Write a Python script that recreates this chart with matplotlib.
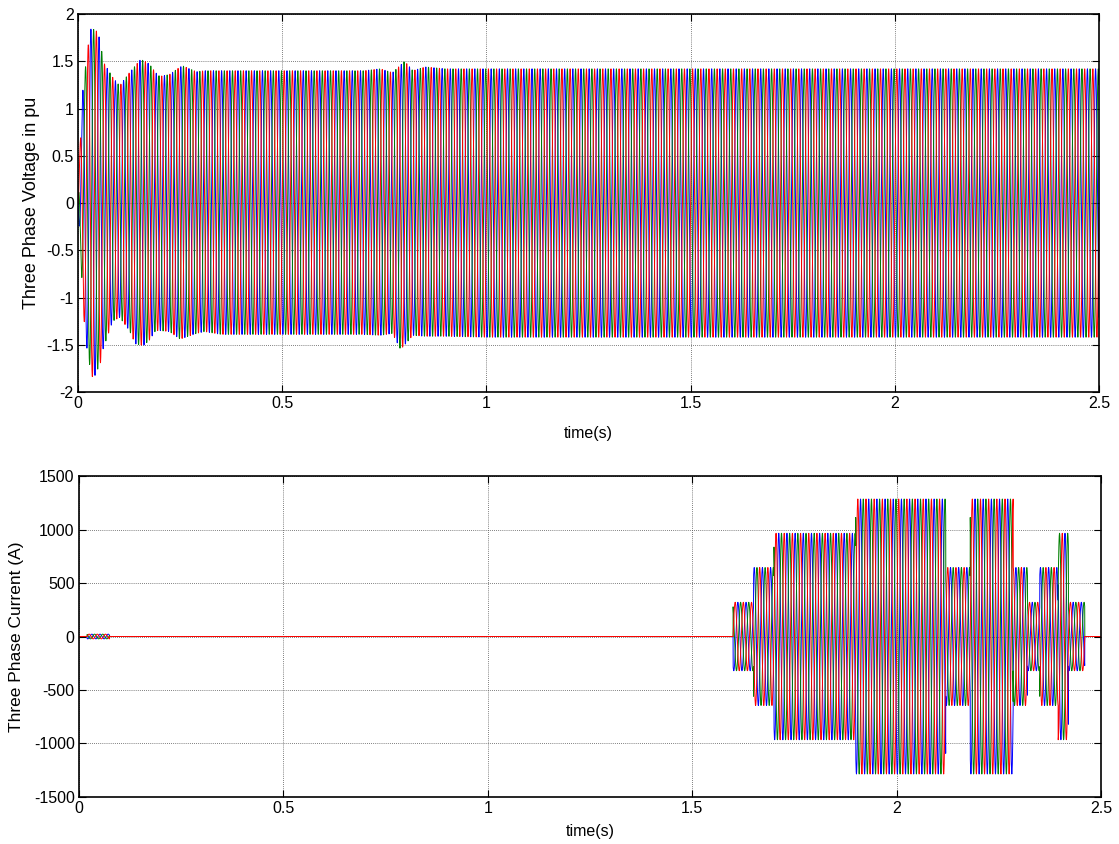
import numpy as np
import matplotlib
matplotlib.use("Agg")
import matplotlib.pyplot as plt

# ---------------- data ----------------
freq_hz = 50.0
t_end = 2.5

# voltage envelope (upper / lower peaks, pu) at breakpoint times (s)
v_env_t = [0.0, 0.007, 0.012, 0.02, 0.030, 0.037, 0.049, 0.057, 0.061, 0.085, 0.102,
           0.126, 0.14, 0.151, 0.16, 0.175, 0.19, 0.2, 0.224, 0.25, 0.257, 0.29, 0.31,
           0.35, 0.70, 0.74, 0.77, 0.79, 0.80, 0.82, 0.85, 0.90, 1.0, 2.5]
v_env_up = [0.0, 0.82, 1.2, 1.5, 1.84, 1.84, 1.81, 1.65, 1.5, 1.33, 1.24,
            1.38, 1.45, 1.51, 1.51, 1.47, 1.38, 1.34, 1.36, 1.44, 1.45, 1.39, 1.40,
            1.40, 1.40, 1.42, 1.38, 1.46, 1.50, 1.40, 1.44, 1.42, 1.42, 1.42]
v_env_lo = [0.0, -0.6, -1.1, -1.49, -1.75, -1.87, -1.75, -1.67, -1.55, -1.25, -1.21,
            -1.35, -1.49, -1.50, -1.51, -1.45, -1.35, -1.35, -1.36, -1.44, -1.43, -1.38, -1.36,
            -1.39, -1.39, -1.40, -1.38, -1.55, -1.50, -1.40, -1.41, -1.41, -1.42, -1.42]

# current envelope: piecewise constant amplitude (A) between step times (s)
i_step_t = [0.0, 0.02, 0.075, 1.60, 1.65, 1.70, 1.90, 2.12, 2.18, 2.285, 2.32, 2.35, 2.395, 2.42, 2.46, 2.5]
i_step_amp = [0, 22, 0, 320, 645, 965, 1285, 645, 1285, 645, 320, 645, 965, 320, 0]

phase_colors = ["#0000ff", "#008000", "#ff0000"]
phase_shift_deg = [-120.0, 120.0, 0.0]

x_ticks = [0, 0.5, 1, 1.5, 2, 2.5]
x_tick_labels = ["0", "0.5", "1", "1.5", "2", "2.5"]
v_ticks = [-2, -1.5, -1, -0.5, 0, 0.5, 1, 1.5, 2]
v_tick_labels = ["-2", "-1.5", "-1", "-0.5", "0", "0.5", "1", "1.5", "2"]
i_ticks = [-1500, -1000, -500, 0, 500, 1000, 1500]
i_tick_labels = ["-1500", "-1000", "-500", "0", "500", "1000", "1500"]

# ---------------- build waveforms ----------------
t = np.arange(0, t_end, 1e-4)
up = np.interp(t, v_env_t, v_env_up)
lo = np.interp(t, v_env_t, v_env_lo)
v_amp = (up - lo) / 2
v_mid = (up + lo) / 2

idx = np.clip(np.searchsorted(i_step_t, t, side="right") - 1, 0, len(i_step_amp) - 1)
i_amp = np.array(i_step_amp, dtype=float)[idx]

fig = plt.figure(figsize=(11.19, 8.44), dpi=100)
ax1 = fig.add_axes([0.0697, 0.5355, 0.9124, 0.4479])
ax2 = fig.add_axes([0.0705, 0.0557, 0.9135, 0.3803])

fam = ["Liberation Sans", "DejaVu Sans"]
tick_font = {"family": fam, "size": 11.5}

for col, ph in zip(phase_colors, phase_shift_deg):
    w = 2 * np.pi * freq_hz * t + np.deg2rad(ph)
    ax1.plot(t, v_mid + v_amp * np.sin(w), color=col, lw=0.7)
    ax2.plot(t, i_amp * np.sin(w), color=col, lw=0.7)

for ax, ticks, labels, ylim in [(ax1, v_ticks, v_tick_labels, (-2, 2)),
                                (ax2, i_ticks, i_tick_labels, (-1500, 1500))]:
    ax.set_xlim(0, 2.5)
    ax.set_ylim(*ylim)
    ax.set_xticks(x_ticks)
    ax.set_xticklabels(x_tick_labels, **tick_font)
    ax.set_yticks(ticks)
    ax.set_yticklabels(labels, **tick_font)
    ax.tick_params(direction="in", top=True, right=True, length=5, width=0.8, pad=3)
    ax.grid(True, color="#555555", linestyle=(0, (1, 1.5)), linewidth=0.6)
    for s in ax.spines.values():
        s.set_linewidth(1.2)
    ax.set_xlabel("time(s)", family=fam, fontsize=11.5)
    ax.xaxis.label.set_va("center")

ax1.set_ylabel("Three Phase Voltage in pu", family=fam, fontsize=13)
ax2.set_ylabel("Three Phase Current (A)", family=fam, fontsize=12.5)
ax1.yaxis.set_label_coords(-0.046, 0.5)
ax2.yaxis.set_label_coords(-0.0607, 0.5)
ax1.xaxis.set_label_coords(0.5, -0.111)
ax2.xaxis.set_label_coords(0.5, -0.106)
ax1.yaxis.label.set_va("center")
ax2.yaxis.label.set_va("center")

fig.savefig("out.png", dpi=100)
